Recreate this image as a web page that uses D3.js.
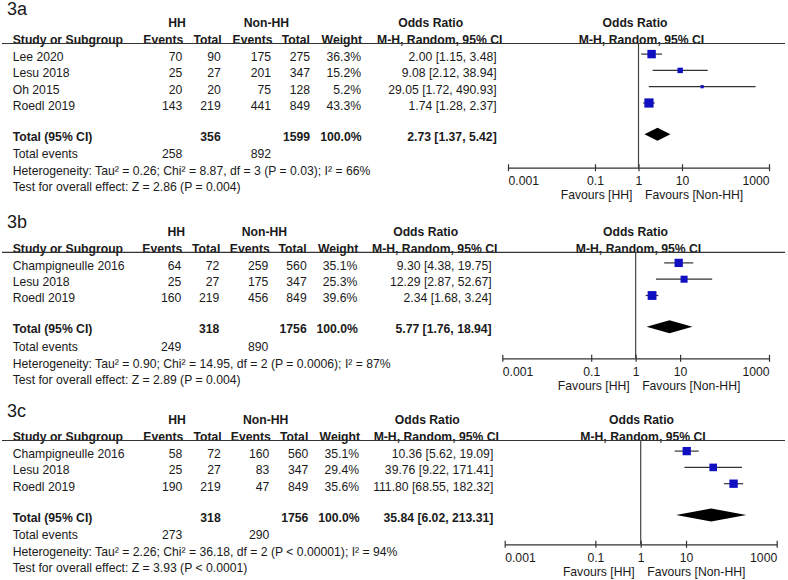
<!DOCTYPE html>
<html>
<head>
<meta charset="utf-8">
<script src="https://cdn.jsdelivr.net/npm/d3@7"></script>
<style>
  body { margin: 0; background: #fff; }
  svg { display: block; }
  text { font-family: "Liberation Sans", Arial, sans-serif; font-size: 12.2px; fill: #1a1a1a; }
  .b { font-weight: bold; }
</style>
</head>
<body>
<svg id="chart" width="788" height="580"></svg>
<script>
// data, one entry per panel
const panelLabels = ['3a', '3b', '3c'];
const studies = [
  ['Lee 2020', 'Lesu 2018', 'Oh 2015', 'Roedl 2019'],
  ['Champigneulle 2016', 'Lesu 2018', 'Roedl 2019'],
  ['Champigneulle 2016', 'Lesu 2018', 'Roedl 2019']
];
const hhEvents = [[70, 25, 20, 143], [64, 25, 160], [58, 25, 190]];
const hhTotal = [[90, 27, 20, 219], [72, 27, 219], [72, 27, 219]];
const nonEvents = [[175, 201, 75, 441], [259, 175, 456], [160, 83, 47]];
const nonTotal = [[275, 347, 128, 849], [560, 347, 849], [560, 347, 849]];
const weights = [[36.3, 15.2, 5.2, 43.3], [35.1, 25.3, 39.6], [35.1, 29.4, 35.6]];
const oddsRatio = [[2.00, 9.08, 29.05, 1.74], [9.30, 12.29, 2.34], [10.36, 39.76, 111.80]];
const ciLow = [[1.15, 2.12, 1.72, 1.28], [4.38, 2.87, 1.68], [5.62, 9.22, 68.55]];
const ciHigh = [[3.48, 38.94, 490.93, 2.37], [19.75, 52.67, 3.24], [19.09, 171.41, 182.32]];

const totalHH = [356, 318, 318];
const totalNon = [1599, 1756, 1756];
const totalEventsHH = [258, 249, 273];
const totalEventsNon = [892, 890, 290];
const pooledOR = [2.73, 5.77, 35.84];
const pooledLow = [1.37, 1.76, 6.02];
const pooledHigh = [5.42, 18.94, 213.31];

const heterogeneity = [
  'Heterogeneity: Tau² = 0.26; Chi² = 8.87, df = 3 (P = 0.03); I² = 66%',
  'Heterogeneity: Tau² = 0.90; Chi² = 14.95, df = 2 (P = 0.0006); I² = 87%',
  'Heterogeneity: Tau² = 2.26; Chi² = 36.18, df = 2 (P < 0.00001); I² = 94%'
];
const overallEffect = [
  'Test for overall effect: Z = 2.86 (P = 0.004)',
  'Test for overall effect: Z = 2.89 (P = 0.004)',
  'Test for overall effect: Z = 3.93 (P < 0.0001)'
];

const tickValues = [0.001, 0.1, 1, 10, 1000];
const tickLabels = ['0.001', '0.1', '1', '10', '1000'];

// layout of each panel
const layout = [
  {y0: 43.5, labelY: 15, axisY: 167.7, cols: [182.3, 220.7, 271, 310, 361, 496.7],
   hhX: 177, nonX: 266.5, range: [508, 769], plotHead: [635, 641.5]},
  {y0: 252.3, labelY: 227.5, axisY: 358.3, cols: [181.3, 219.3, 268.3, 306.7, 357.3, 491.7],
   hhX: 176.3, nonX: 264.5, range: [502.3, 769], plotHead: [635.5, 638.5]},
  {y0: 440.5, labelY: 417, axisY: 544.3, cols: [182.3, 220.7, 269.3, 308.3, 359, 493.3],
   hhX: 177, nonX: 265.7, range: [504.7, 776.7], plotHead: [641.5, 643]}
];

const svg = d3.select('#chart');
const f2 = d3.format('.2f');
const ciText = (o, l, h) => f2(o) + ' [' + f2(l) + ', ' + f2(h) + ']';
const size = d3.scaleSqrt().domain([0, 50]).range([0, 9.9]);
const leftX = 12.7;
const pitch = 16.3;

function text(g, x, y, str, anchor, bold) {
  return g.append('text')
    .attr('x', x).attr('y', y).attr('dy', '0.35em')
    .attr('text-anchor', anchor || 'start')
    .attr('class', bold ? 'b' : null)
    .text(str);
}

panelLabels.forEach((label, p) => {
  const L = layout[p];
  const g = svg.append('g');
  const c = L.cols;

  g.append('text')
    .attr('x', 7).attr('y', L.labelY)
    .style('font-size', '18px')
    .text(label);

  // headers
  text(g, L.hhX, L.y0 - 20.5, 'HH', 'middle', true);
  text(g, L.nonX, L.y0 - 20.5, 'Non-HH', 'middle', true);
  text(g, c[5] - 66, L.y0 - 20.5, 'Odds Ratio', 'middle', true);
  text(g, L.plotHead[0], L.y0 - 20.5, 'Odds Ratio', 'middle', true);
  text(g, leftX, L.y0 - 3.8, 'Study or Subgroup', 'start', true);
  text(g, c[0] + 1, L.y0 - 3.8, 'Events', 'end', true);
  text(g, c[1] + 1, L.y0 - 3.8, 'Total', 'end', true);
  text(g, c[2] + 1.5, L.y0 - 3.8, 'Events', 'end', true);
  text(g, c[3], L.y0 - 3.8, 'Total', 'end', true);
  text(g, c[4] + 1, L.y0 - 3.8, 'Weight', 'end', true);
  text(g, c[5] - 57, L.y0 - 3.8, 'M-H, Random, 95% CI', 'middle', true);
  text(g, L.plotHead[1], L.y0 - 3.8, 'M-H, Random, 95% CI', 'middle', true);

  g.append('line')
    .attr('x1', 2).attr('x2', 785)
    .attr('y1', L.y0).attr('y2', L.y0)
    .attr('stroke', '#333').attr('stroke-width', 1.2);

  const n = studies[p].length;
  const rowY = d3.scaleLinear().domain([0, 1]).range([L.y0 + 13.3, L.y0 + 13.3 + pitch]);
  const totalY = rowY(n - 1) + 31;

  const rows = studies[p].map((s, i) => ({
    name: s, e1: hhEvents[p][i], t1: hhTotal[p][i], e2: nonEvents[p][i], t2: nonTotal[p][i],
    w: weights[p][i], or: oddsRatio[p][i], lo: ciLow[p][i], hi: ciHigh[p][i], y: rowY(i)
  }));

  rows.forEach(r => {
    text(g, leftX, r.y, r.name);
    text(g, c[0], r.y, r.e1, 'end');
    text(g, c[1], r.y, r.t1, 'end');
    text(g, c[2], r.y, r.e2, 'end');
    text(g, c[3], r.y, r.t2, 'end');
    text(g, c[4], r.y, d3.format('.1f')(r.w) + '%', 'end');
    text(g, c[5], r.y, ciText(r.or, r.lo, r.hi), 'end');
  });

  text(g, leftX, totalY, 'Total (95% CI)', 'start', true);
  text(g, c[1], totalY, totalHH[p], 'end', true);
  text(g, c[3], totalY, totalNon[p], 'end', true);
  text(g, c[4] + 0.5, totalY, '100.0%', 'end', true);
  text(g, c[5], totalY, ciText(pooledOR[p], pooledLow[p], pooledHigh[p]), 'end', true);

  text(g, leftX, totalY + 17.5, 'Total events');
  text(g, c[0], totalY + 17.5, totalEventsHH[p], 'end');
  text(g, c[2], totalY + 17.5, totalEventsNon[p], 'end');
  text(g, leftX, totalY + 34.3, heterogeneity[p]);
  text(g, leftX, totalY + 50.3, overallEffect[p]);

  // forest plot
  const x = d3.scaleLog().domain([0.001, 1000]).range(L.range);

  g.append('line')
    .attr('x1', x(1)).attr('x2', x(1))
    .attr('y1', L.y0).attr('y2', L.axisY)
    .attr('stroke', '#444').attr('stroke-width', 1.2);

  g.selectAll('.ci').data(rows).join('line')
    .attr('class', 'ci')
    .attr('x1', d => x(d.lo)).attr('x2', d => x(d.hi))
    .attr('y1', d => d.y - 2.7).attr('y2', d => d.y - 2.7)
    .attr('stroke', '#333').attr('stroke-width', 1.2);

  g.selectAll('.sq').data(rows).join('rect')
    .attr('class', 'sq')
    .attr('x', d => x(d.or) - size(d.w) / 2)
    .attr('y', d => d.y - 2.7 - size(d.w) / 2)
    .attr('width', d => size(d.w)).attr('height', d => size(d.w))
    .attr('fill', '#1010c0');

  const dy = totalY - 2.5;
  g.append('path')
    .attr('d', 'M' + x(pooledLow[p]) + ',' + dy +
      'L' + x(pooledOR[p]) + ',' + (dy - 6.5) +
      'L' + x(pooledHigh[p]) + ',' + dy +
      'L' + x(pooledOR[p]) + ',' + (dy + 6.5) + 'Z')
    .attr('fill', '#000');

  const axis = g.append('g')
    .attr('transform', 'translate(0,' + L.axisY + ')')
    .call(d3.axisBottom(x)
      .tickValues(tickValues)
      .tickFormat((d, i) => tickLabels[i])
      .tickSizeOuter(0));
  axis.select('.domain').attr('stroke', '#333').attr('stroke-width', 1.2);
  axis.selectAll('.tick line')
    .attr('y1', -3.5).attr('y2', 3.5)
    .attr('stroke', '#333').attr('stroke-width', 1.2);
  axis.selectAll('.tick text')
    .attr('y', 13.5).attr('dy', '0.35em')
    .attr('fill', null)
    .style('font-size', '12.2px')
    .style('font-family', '"Liberation Sans", Arial, sans-serif')
    .attr('text-anchor', (d, i) => i === 0 ? 'start' : (i === tickValues.length - 1 ? 'end' : 'middle'));

  text(g, x(1) - 6, L.axisY + 27.5, 'Favours [HH]', 'end');
  text(g, x(1) + 6.5, L.axisY + 27.5, 'Favours [Non-HH]', 'start');
});
</script>
</body>
</html>
